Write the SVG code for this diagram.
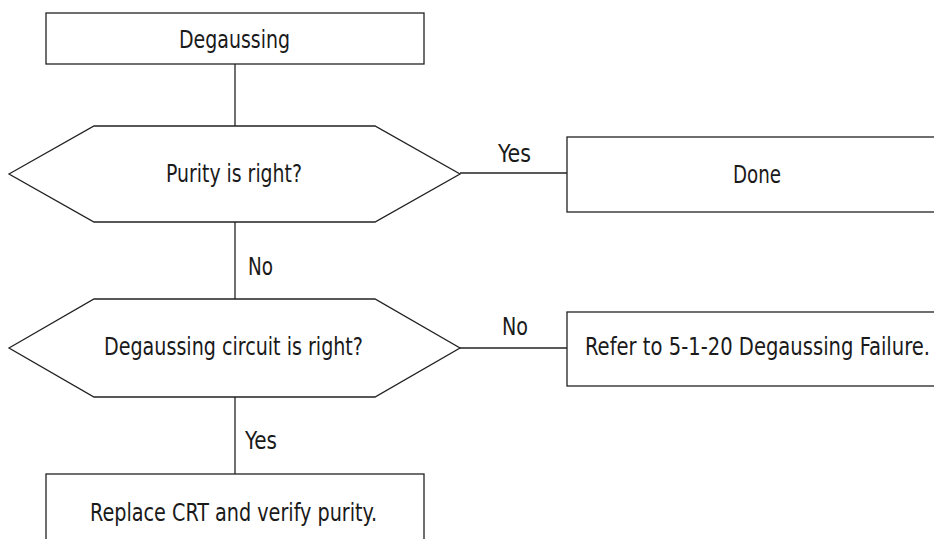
<svg xmlns="http://www.w3.org/2000/svg" width="934" height="539" viewBox="0 0 934 539">
<style>
.n{fill:#fff;stroke:#222;stroke-width:1.3}
.c{fill:none;stroke:#222;stroke-width:1.3}
text{font-family:"Liberation Sans Narrow","DejaVu Sans Condensed",sans-serif;font-size:24px;fill:#1a1a1a}
</style>
<rect width="934" height="539" fill="#fff"/>
<g id="connectors">
<line class="c" x1="235" y1="64" x2="235" y2="126"/>
<line class="c" x1="235" y1="222" x2="235" y2="299"/>
<line class="c" x1="235" y1="397" x2="235" y2="474"/>
<line class="c" x1="460" y1="173" x2="567" y2="173"/>
<line class="c" x1="460" y1="348" x2="567" y2="348"/>
<text x="498" y="162" textLength="33" lengthAdjust="spacingAndGlyphs">Yes</text>
<text x="248" y="275" textLength="25" lengthAdjust="spacingAndGlyphs">No</text>
<text x="502" y="335" textLength="26" lengthAdjust="spacingAndGlyphs">No</text>
<text x="245" y="449" textLength="32" lengthAdjust="spacingAndGlyphs">Yes</text>
</g>
<g id="start">
<rect class="n" x="46" y="13" width="378" height="51"/>
<text x="179" y="48" textLength="111" lengthAdjust="spacingAndGlyphs">Degaussing</text>
</g>
<g id="purity">
<polygon class="n" points="9,174 94,126 375,126 460,174 375,222 94,222"/>
<text x="166" y="182" textLength="136" lengthAdjust="spacingAndGlyphs">Purity is right?</text>
</g>
<g id="done">
<rect class="n" x="567" y="137" width="380" height="75"/>
<text x="733" y="183" textLength="48" lengthAdjust="spacingAndGlyphs">Done</text>
</g>
<g id="circuit">
<polygon class="n" points="9,348 94,299 375,299 460,348 375,397 94,397"/>
<text x="104" y="355" textLength="259" lengthAdjust="spacingAndGlyphs">Degaussing circuit is right?</text>
</g>
<g id="refer">
<rect class="n" x="567" y="312" width="380" height="74"/>
<text x="585" y="355" textLength="345" lengthAdjust="spacingAndGlyphs">Refer to 5-1-20 Degaussing Failure.</text>
</g>
<g id="replace">
<rect class="n" x="46" y="474" width="378" height="80"/>
<text x="90" y="521" textLength="287" lengthAdjust="spacingAndGlyphs">Replace CRT and verify purity.</text>
</g>
</svg>
